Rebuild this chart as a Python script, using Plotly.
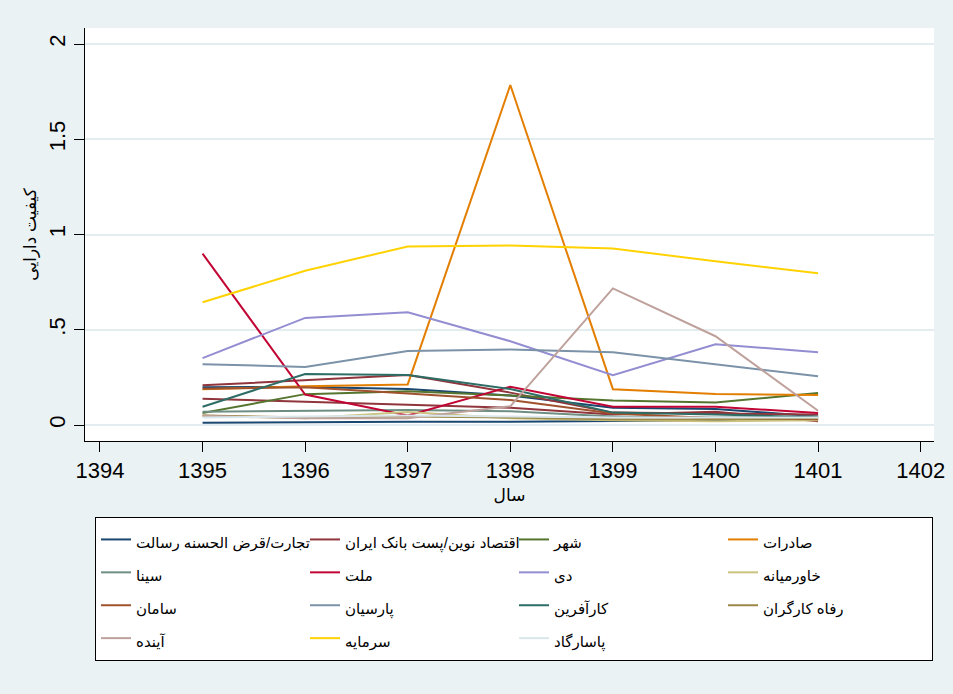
import plotly.graph_objects as go

years = [1395, 1396, 1397, 1398, 1399, 1400, 1401]

names = [
    "تجارت/قرض الحسنه رسالت",
    "اقتصاد نوین/پست بانک ایران",
    "شهر",
    "صادرات",
    "سینا",
    "ملت",
    "دی",
    "خاورمیانه",
    "سامان",
    "پارسیان",
    "کارآفرین",
    "رفاه کارگران",
    "آینده",
    "سرمایه",
    "پاسارگاد",
]

tejarat = [0.198, 0.200, 0.189, 0.155, 0.090, 0.084, 0.045]
eghtesad = [0.208, 0.236, 0.262, 0.170, 0.065, 0.060, 0.055]
shahr = [0.063, 0.162, 0.177, 0.155, 0.128, 0.118, 0.168]
saderat = [0.188, 0.203, 0.213, 1.785, 0.188, 0.163, 0.157]
sina = [0.070, 0.074, 0.079, 0.072, 0.045, 0.040, 0.044]
mellat = [0.900, 0.160, 0.050, 0.201, 0.096, 0.096, 0.063]
dey = [0.351, 0.562, 0.592, 0.440, 0.262, 0.424, 0.382]
khavarmianeh = [0.050, 0.035, 0.068, 0.035, 0.025, 0.020, 0.025]
saman = [0.190, 0.198, 0.166, 0.131, 0.060, 0.035, 0.030]
parsian = [0.319, 0.305, 0.389, 0.396, 0.382, 0.319, 0.256]
karafarin = [0.096, 0.268, 0.262, 0.189, 0.065, 0.055, 0.040]
refah = [0.050, 0.040, 0.045, 0.040, 0.030, 0.030, 0.035]
ayandeh = [0.048, 0.035, 0.035, 0.098, 0.717, 0.466, 0.075]
sarmayeh = [0.644, 0.810, 0.937, 0.942, 0.927, 0.859, 0.796]
pasargad = [0.040, 0.045, 0.050, 0.045, 0.040, 0.040, 0.040]

# two additional unlabeled series drawn in the chart (colours cycle back)
extra_navy = [0.012, 0.015, 0.017, 0.017, 0.020, 0.025, 0.030]
extra_maroon = [0.138, 0.122, 0.103, 0.090, 0.055, 0.070, 0.020]

series = [tejarat, eghtesad, shahr, saderat, sina, mellat, dey, khavarmianeh,
          saman, parsian, karafarin, refah, ayandeh, sarmayeh, pasargad]

colors = ["#1A476F", "#90353B", "#55752F", "#E37E00", "#6E8E84", "#C10534",
          "#938DD2", "#CAC27E", "#A0522D", "#7B92A8", "#2D6D66", "#9C8847",
          "#BFA19C", "#FFD200", "#D9E6EB"]

yticks = [0, 0.5, 1, 1.5, 2]
yticktext = ["0", ".5", "1", "1.5", "2"]
xticks = list(range(1394, 1403))

fig = go.Figure()
fig.add_trace(go.Scatter(x=years, y=extra_navy, mode="lines",
                         line=dict(color=colors[0], width=2), showlegend=False))
fig.add_trace(go.Scatter(x=years, y=extra_maroon, mode="lines",
                         line=dict(color=colors[1], width=2), showlegend=False))
for nm, vals, c in zip(names, series, colors):
    fig.add_trace(go.Scatter(
        x=years, y=vals, mode="lines",
        name='<span style="font-size:15px">' + nm + '</span>',
        line=dict(color=c, width=2)))

fig.update_layout(
    width=953, height=694,
    paper_bgcolor="#EAF2F3",
    plot_bgcolor="white",
    margin=dict(l=85, r=19, t=28, b=253, autoexpand=False),
    font=dict(family="Liberation Sans, Arial, DejaVu Sans", color="black"),
    showlegend=True,
    legend=dict(
        orientation="h", x=0.0118, y=-0.184, xanchor="left", yanchor="top",
        bgcolor="white", bordercolor="black", borderwidth=1,
        font=dict(size=23, family="Liberation Sans, Arial, DejaVu Sans"),
        entrywidth=164, traceorder="normal",
    ),
    xaxis=dict(
        range=[1393.854, 1402.13], tickvals=xticks, ticktext=[str(t) for t in xticks],
        showgrid=False, zeroline=False, showline=True, linecolor="black", linewidth=1,
        ticks="outside", ticklen=10, tickcolor="black", tickfont=dict(size=22),
        title=dict(text="سال", font=dict(size=17), standoff=6), automargin=False,
    ),
    yaxis=dict(
        range=[-0.084, 2.084], tickvals=yticks, ticktext=yticktext, tickangle=-90,
        showgrid=True, gridcolor="#E3EDEF", gridwidth=1.5, zeroline=False,
        showline=True, linecolor="black", linewidth=1,
        ticks="outside", ticklen=10, tickcolor="black", tickfont=dict(size=22),
        title=dict(text="کیفیت دارایی", font=dict(size=17), standoff=4), automargin=False,
    ),
)

fig.write_html(
    "out.html",
    config={"displayModeBar": False},
    post_script="document.body.style.margin='0';document.body.style.overflow='hidden';"
                "document.body.style.background='#EAF2F3';",
)
